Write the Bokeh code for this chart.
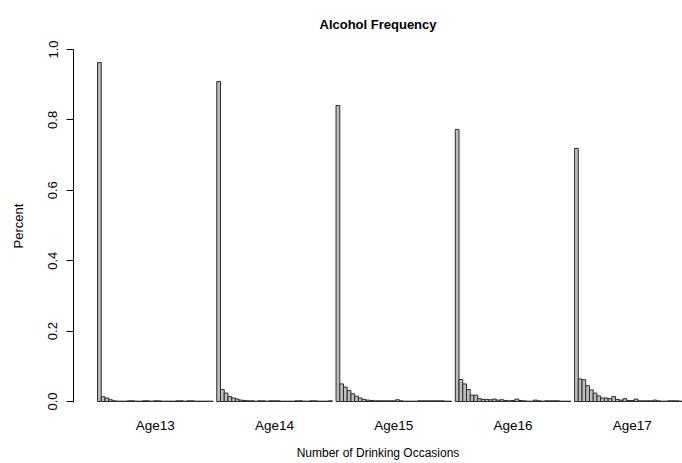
from bokeh.plotting import figure
from bokeh.models import ColumnDataSource, Range1d, FixedTicker
from bokeh.embed import file_html
from bokeh.resources import INLINE

# ---- data (share of respondents by number of drinking occasions, 0..30) ----
groups = ["Age13", "Age14", "Age15", "Age16", "Age17"]
age13 = [0.963, 0.0135, 0.010, 0.005, 0.002, 0.001, 0.001, 0.001, 0.002, 0.002,
         0.001, 0.001, 0.002, 0.002, 0.001, 0.002, 0.002, 0.001, 0.001, 0.001,
         0.001, 0.002, 0.002, 0.001, 0.002, 0.002, 0.001, 0.001, 0.001, 0.001, 0.001]
age14 = [0.909, 0.034, 0.024, 0.014, 0.010, 0.007, 0.004, 0.003, 0.002, 0.002,
         0.001, 0.002, 0.002, 0.001, 0.002, 0.002, 0.002, 0.001, 0.001, 0.001,
         0.001, 0.002, 0.002, 0.001, 0.001, 0.002, 0.002, 0.001, 0.001, 0.001, 0.002]
age15 = [0.841, 0.050, 0.041, 0.031, 0.022, 0.015, 0.010, 0.006, 0.004, 0.003,
         0.002, 0.002, 0.002, 0.002, 0.002, 0.002, 0.005, 0.002, 0.001, 0.001,
         0.001, 0.001, 0.002, 0.002, 0.002, 0.002, 0.002, 0.002, 0.002, 0.001, 0.001]
age16 = [0.773, 0.0625, 0.050, 0.034, 0.018, 0.018, 0.008, 0.006, 0.006, 0.005,
         0.007, 0.004, 0.005, 0.003, 0.002, 0.003, 0.007, 0.003, 0.002, 0.001,
         0.001, 0.004, 0.002, 0.001, 0.002, 0.002, 0.002, 0.002, 0.001, 0.001, 0.001]
age17 = [0.719, 0.064, 0.062, 0.045, 0.033, 0.024, 0.016, 0.010, 0.010, 0.008,
         0.014, 0.006, 0.004, 0.008, 0.003, 0.003, 0.007, 0.002, 0.002, 0.002,
         0.002, 0.004, 0.002, 0.001, 0.001, 0.002, 0.002, 0.002, 0.001, 0.001, 0.001]
y_ticks = [0.0, 0.2, 0.4, 0.6, 0.8, 1.0]

series = [age13, age14, age15, age16, age17]
n = len(age13)

left, right, top, bottom = [], [], [], []
for g, vals in enumerate(series):
    start = 1 + g * (n + 1)
    for j, v in enumerate(vals):
        left.append(start + j)
        right.append(start + j + 1)
        top.append(v)
        bottom.append(0)
src = ColumnDataSource(dict(left=left, right=right, top=top, bottom=bottom))
centers = [1 + g * (n + 1) + n / 2 for g in range(len(groups))]

p = figure(width=682, height=463, output_backend="svg", toolbar_location=None,
           x_range=Range1d(-5.44, 157.96), y_range=Range1d(-0.0028, 1.0),
           min_border_left=73, min_border_right=0, min_border_top=49, min_border_bottom=61,
           title="Alcohol Frequency")
p.outline_line_color = None
p.grid.grid_line_color = None
p.background_fill_color = "white"
p.border_fill_color = "white"

p.quad(left="left", right="right", top="top", bottom="bottom", source=src,
       fill_color="#BEBEBE", line_color="#2b2b2b", line_width=1)

font = "Liberation Sans"
p.title.text_font = font
p.title.text_font_size = "13px"
p.title.text_font_style = "bold"
p.title.align = "center"
p.title.vertical_align = "top"
p.title.offset = 0
p.title.standoff = 31
p.title.text_color = "black"

ya = p.yaxis[0]
ya.ticker = FixedTicker(ticks=y_ticks)
ya.major_label_overrides = {t: f"{t:.1f}" for t in y_ticks}
ya.minor_tick_line_color = None
ya.major_tick_out = 7
ya.major_tick_in = 0
ya.major_label_orientation = "vertical"
ya.major_label_standoff = 9
ya.major_label_text_font = font
ya.major_label_text_font_size = "13px"
ya.major_label_text_color = "black"
ya.axis_line_color = "black"
ya.major_tick_line_color = "black"
ya.axis_label = "Percent"
ya.axis_label_text_font = font
ya.axis_label_text_font_size = "13px"
ya.axis_label_text_font_style = "normal"
ya.axis_label_text_color = "black"
ya.axis_label_standoff = 20

xa = p.xaxis[0]
xa.ticker = FixedTicker(ticks=centers)
xa.major_label_overrides = {c: g for c, g in zip(centers, groups)}
xa.axis_line_color = None
xa.major_tick_line_color = None
xa.minor_tick_line_color = None
xa.major_label_standoff = 9
xa.major_label_text_font = font
xa.major_label_text_font_size = "13.5px"
xa.major_label_text_color = "black"
xa.axis_label = "Number of Drinking Occasions"
xa.axis_label_text_font = font
xa.axis_label_text_font_size = "12px"
xa.axis_label_text_font_style = "normal"
xa.axis_label_text_color = "black"
xa.axis_label_standoff = 10

open("out.html", "w").write(file_html(p, INLINE))
